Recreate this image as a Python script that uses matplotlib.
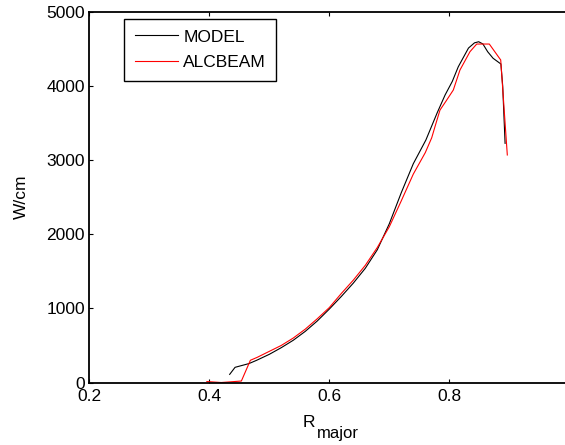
import numpy as np
import matplotlib
matplotlib.use('Agg')
import matplotlib.pyplot as plt

plt.rcParams['font.family'] = ['Liberation Sans', 'DejaVu Sans']

# MODEL (black)
model_r = [0.434, 0.443, 0.466, 0.479, 0.50, 0.52, 0.54, 0.56, 0.58, 0.60,
           0.62, 0.64, 0.66, 0.68, 0.70, 0.72, 0.74, 0.761, 0.78, 0.793,
           0.805, 0.815, 0.832, 0.842, 0.849, 0.856, 0.864, 0.873, 0.886, 0.889, 0.893]
model_p = [110, 205, 255, 300, 380, 470, 570, 690, 830, 990,
           1160, 1340, 1540, 1790, 2140, 2560, 2950, 3270, 3640, 3877,
           4060, 4258, 4510, 4580, 4595, 4565, 4460, 4372, 4295, 4000, 3225]

# ALCBEAM (red)
alc_r = [0.396, 0.42, 0.4535, 0.4685, 0.48, 0.50, 0.52, 0.54, 0.56, 0.58,
         0.60, 0.62, 0.64, 0.66, 0.68, 0.70, 0.72, 0.74, 0.76, 0.7707,
         0.778, 0.7845, 0.795, 0.8067, 0.8178, 0.8345, 0.8457, 0.8667, 0.8857, 0.8967]
alc_p = [13, 0, 20, 300, 340, 420, 500, 600, 720, 860,
         1010, 1200, 1380, 1580, 1820, 2100, 2450, 2810, 3100, 3300,
         3500, 3674, 3800, 3944, 4214, 4461, 4564, 4564, 4349, 3068]

fig = plt.figure(figsize=(5.65, 4.45), dpi=100)
ax = fig.add_axes([0.158, 0.1404, 0.8496, 0.8333])

ax.plot(model_r, model_p, color='black', lw=0.8, label='MODEL')
ax.plot(alc_r, alc_p, color='red', lw=0.8, label='ALCBEAM')

ax.set_xlim(0.2, 1.0)
ax.set_ylim(0, 5000)
ax.set_xticks([0.2, 0.4, 0.6, 0.8])
ax.set_xticklabels(['0.2', '0.4', '0.6', '0.8'])
ax.set_yticks([0, 1000, 2000, 3000, 4000, 5000])
ax.tick_params(direction='in', length=3, width=0.8, labelsize=12.5,
               top=True, right=True)
ax.tick_params(axis='x', pad=5)
ax.tick_params(axis='y', pad=3)
for sp in ax.spines.values():
    sp.set_linewidth(1.3)

# x label "R" with a lowered "major" subscript
fig.text(303 / 565, 1 - 427 / 445, 'R', fontsize=12.5, ha='left', va='baseline')
fig.text(317 / 565, 1 - 438 / 445, 'major', fontsize=12, ha='left', va='baseline')
ax.set_ylabel('W/cm', fontsize=12.5, labelpad=12.5)

leg = ax.legend(loc='upper left', bbox_to_anchor=(124.3 / 565, 1 - 19 / 445),
                bbox_transform=fig.transFigure, borderaxespad=0,
                fontsize=12.5, handlelength=2.5, handletextpad=0.3,
                labelspacing=0.6, borderpad=0.6, fancybox=False,
                framealpha=1, edgecolor='black')
leg.get_frame().set_linewidth(1.0)

fig.savefig('out.png', dpi=100)
